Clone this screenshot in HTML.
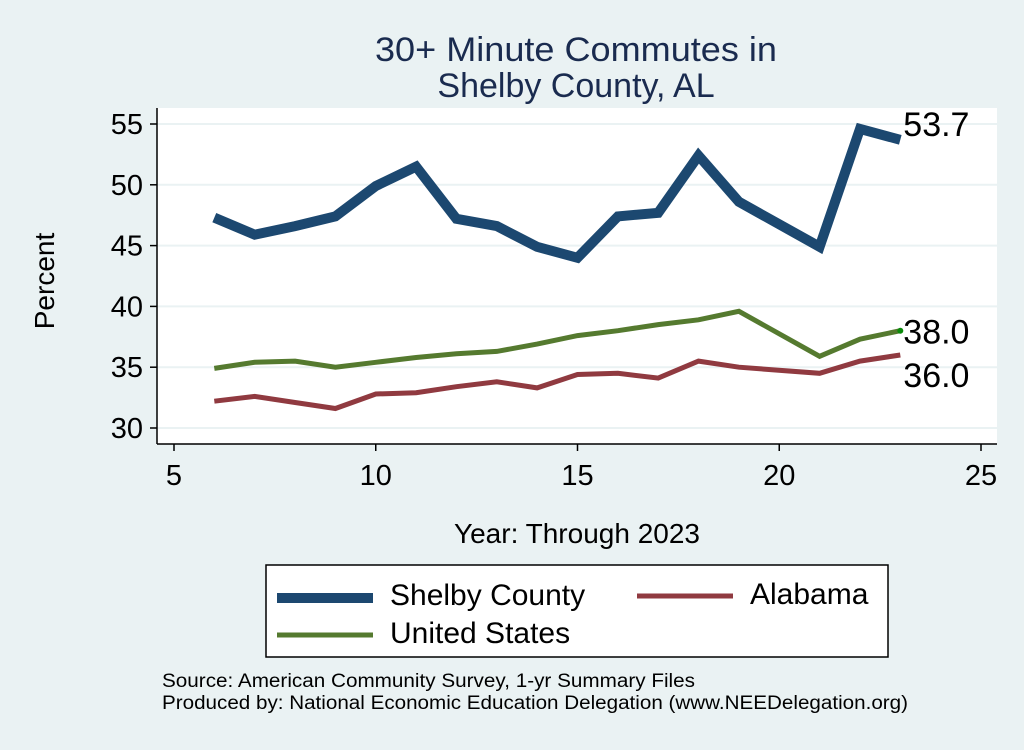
<!DOCTYPE html>
<html><head><meta charset="utf-8"><style>
html,body{margin:0;padding:0;background:#eaf2f3;}
svg text{font-family:"Liberation Sans",Arial,sans-serif;}
</style></head><body>
<svg id="chart" width="1024" height="745" viewBox="0 0 1024 745" xmlns="http://www.w3.org/2000/svg">
<rect x="0" y="0" width="1024" height="745" fill="#eaf2f3"/>
<text x="576" y="61" font-size="34" fill="#1a2b4f" text-anchor="middle" textLength="402" lengthAdjust="spacingAndGlyphs">30+ Minute Commutes in</text>
<text x="576" y="97" font-size="34" fill="#1a2b4f" text-anchor="middle">Shelby County, AL</text>
<rect x="157" y="108" width="840" height="336" fill="#ffffff"/>
<g id="grid"></g>
<g id="series"></g>
<g id="axes"></g>
<text x="54" y="281" font-size="28" fill="#000" text-anchor="middle" transform="rotate(-90 54 281)">Percent</text>
<text x="577" y="543" font-size="28" fill="#000" text-anchor="middle">Year: Through 2023</text>
<g>
<rect x="266" y="565" width="622" height="92" fill="#fff" stroke="#000" stroke-width="1.5"/>
<line x1="277" y1="598" x2="373" y2="598" stroke="#1c4870" stroke-width="10"/>
<text x="390" y="605" font-size="30">Shelby County</text>
<line x1="637" y1="596" x2="733" y2="596" stroke="#903a40" stroke-width="5"/>
<text x="750" y="604" font-size="30">Alabama</text>
<line x1="277" y1="635" x2="373" y2="635" stroke="#557a2f" stroke-width="5"/>
<text x="390" y="643" font-size="30">United States</text>
</g>
<text x="162" y="687" font-size="19" textLength="533" lengthAdjust="spacingAndGlyphs">Source: American Community Survey, 1-yr Summary Files</text>
<text x="162" y="709" font-size="19" textLength="746" lengthAdjust="spacingAndGlyphs">Produced by: National Economic Education Delegation (www.NEEDelegation.org)</text>
</svg>
<script>
const years = [6,7,8,9,10,11,12,13,14,15,16,17,18,19,21,22,23];
const shelby = [47.3,45.9,46.6,47.4,49.9,51.5,47.2,46.6,44.9,44.0,47.4,47.7,52.4,48.6,44.9,54.6,53.7];
const usa = [34.9,35.4,35.5,35.0,35.4,35.8,36.1,36.3,36.9,37.6,38.0,38.5,38.9,39.6,35.9,37.3,38.0];
const alabama = [32.2,32.6,32.1,31.6,32.8,32.9,33.4,33.8,33.3,34.4,34.5,34.1,35.5,35.0,34.5,35.5,36.0];
const xTicks = [5,10,15,20,25];
const yTicks = [30,35,40,45,50,55];

const NS = "http://www.w3.org/2000/svg";
function xs(v){ return 174 + (v-5)*(981-174)/20; }
function ys(v){ return 428 - (v-30)*(428-124)/25; }
function mk(tag, attrs, parent){
  const e = document.createElementNS(NS, tag);
  for (const k in attrs) e.setAttribute(k, attrs[k]);
  parent.appendChild(e);
  return e;
}
const grid = document.getElementById('grid');
const axes = document.getElementById('axes');
const series = document.getElementById('series');
yTicks.forEach(t => {
  const g = mk('line', {x1:157, x2:997, y1:ys(t), y2:ys(t), stroke:'#eaf2f3', 'stroke-width':2}, grid);
  
  
  const tk = mk('line', {x1:150, x2:157, y1:ys(t), y2:ys(t), stroke:'#000', 'stroke-width':1.5}, axes);
  
  
  const tx = mk('text', {x:143, y:ys(t)+10, 'font-size':29, 'text-anchor':'end'}, axes);
  tx.textContent = t;
  
  
});
xTicks.forEach(t => {
  const tk = mk('line', {x1:xs(t), x2:xs(t), y1:444, y2:451, stroke:'#000', 'stroke-width':1.5}, axes);
  
  
  const tx = mk('text', {x:xs(t), y:485, 'font-size':29, 'text-anchor':'middle'}, axes);
  tx.textContent = t;
  
  
});
const ya = mk('line', {x1:157, x2:157, y1:108, y2:444, stroke:'#000', 'stroke-width':1.5}, axes);


const xa = mk('line', {x1:157, x2:997, y1:444, y2:444, stroke:'#000', 'stroke-width':1.5}, axes);



function drawSeries(vals, color, w, name){
  const pts = vals.map((v,i) => xs(years[i]).toFixed(1)+','+ys(v).toFixed(1)).join(' ');
  const p = mk('polyline', {points:pts, fill:'none', stroke:color, 'stroke-width':w, 'stroke-linejoin':'miter', 'stroke-linecap':'butt'}, series);
  
  
}
drawSeries(alabama, '#903a40', 5, 'alabama-line');
drawSeries(usa, '#557a2f', 5, 'us-line');
drawSeries(shelby, '#1c4870', 10, 'shelby-line');

const n = years.length - 1;
const dot = mk('circle', {cx:xs(years[n]), cy:ys(usa[n]), r:3, fill:'#0a8a0a'}, series);


function endLabel(val, dy, name){
  const t = mk('text', {x:xs(years[n])+3, y:ys(val)+dy, 'font-size':34}, series);
  t.textContent = val.toFixed(1);
  
  
}
endLabel(shelby[n], -4, 'shelby-end-label');
endLabel(usa[n], 13, 'us-end-label');
endLabel(alabama[n], 32, 'alabama-end-label');
</script>
</body></html>
